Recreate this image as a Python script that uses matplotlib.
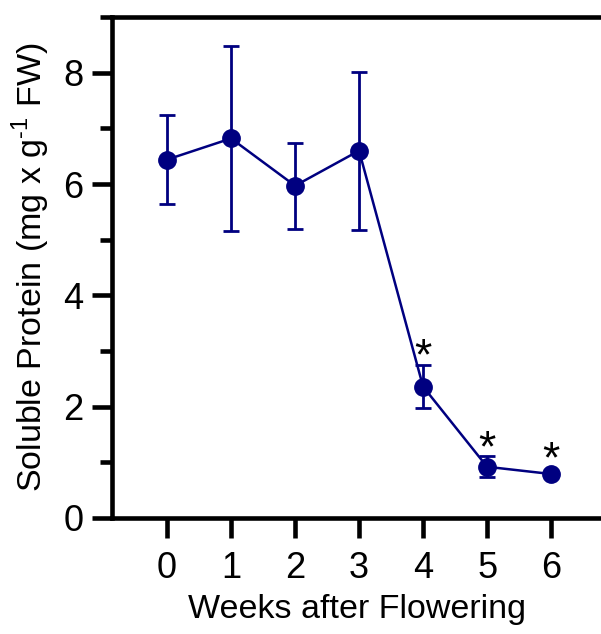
import matplotlib.pyplot as plt
from matplotlib.ticker import MultipleLocator

# Datos
weeks = [0, 1, 2, 3, 4, 5, 6]
protein = [6.44, 6.82, 5.97, 6.60, 2.36, 0.92, 0.79]
protein_err = [0.80, 1.67, 0.77, 1.42, 0.38, 0.19, 0.0]
star_weeks = [4, 5, 6]
star_y = [2.93, 1.28, 1.08]

plt.rcParams["font.family"] = ["Liberation Sans", "DejaVu Sans"]
plt.rcParams["mathtext.fontset"] = "custom"
plt.rcParams["mathtext.rm"] = "Liberation Sans"

fig = plt.figure(figsize=(6.01, 6.34), dpi=100)
ax = fig.add_axes([0.1864, 0.183, 0.8136, 0.790])

color = "#000080"
ax.errorbar(weeks, protein, yerr=protein_err, color=color, marker="o",
            markersize=12.5, linewidth=1.8, elinewidth=2.0, capsize=5.5,
            capthick=2.0, clip_on=False, zorder=3)

# Asteriscos de significancia
for x, y in zip(star_weeks, star_y):
    ax.text(x, y - 0.05, "*", ha="center", va="center", fontsize=32,
            color="black")

ax.set_xlim(-0.86, 6.78)
ax.set_ylim(0, 9)
ax.set_xticks(weeks)
ax.set_yticks([0, 2, 4, 6, 8])
ax.yaxis.set_minor_locator(MultipleLocator(1))

ax.spines["right"].set_visible(False)
for s in ["left", "bottom", "top"]:
    ax.spines[s].set_linewidth(3.3)

ax.tick_params(axis="both", which="major", length=14.5, width=3.3,
               labelsize=26, pad=6)
ax.tick_params(axis="x", which="major", pad=9)
ax.tick_params(axis="y", which="minor", length=8.5, width=3.3)
ax.tick_params(axis="x", which="minor", length=0)

ax.set_xlabel("Weeks after Flowering", fontsize=24.5, labelpad=6)
ax.set_ylabel(r"Soluble Protein (mg x g$^{\text{-1}}$ FW)", fontsize=24.5,
              labelpad=8)

fig.savefig("out.png", dpi=100)
plt.close(fig)
